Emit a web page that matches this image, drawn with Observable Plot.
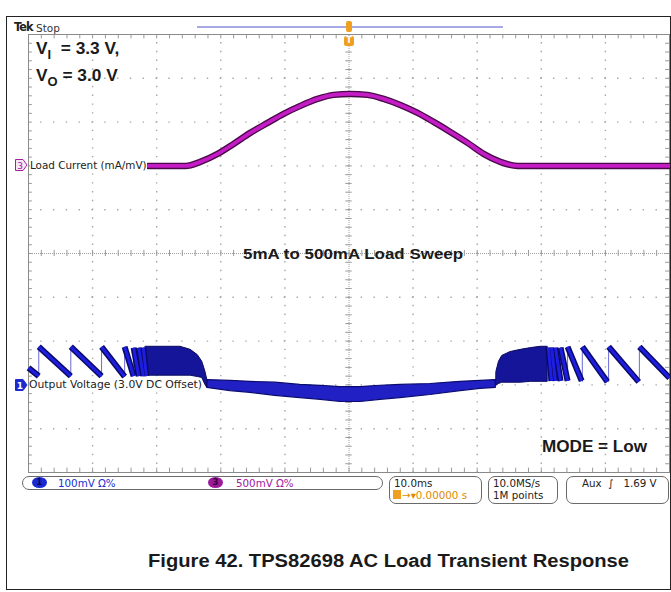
<!DOCTYPE html>
<html><head><meta charset="utf-8">
<script src="https://cdn.jsdelivr.net/npm/d3@7"></script>
<script src="https://cdn.jsdelivr.net/npm/@observablehq/plot@0.6"></script>
<style>
html,body{margin:0;padding:0;background:#fff;}
#wrap{position:relative;width:671px;height:592px;overflow:hidden;font-family:"DejaVu Sans",sans-serif;}
#chart{position:absolute;left:0;top:0;}
.abs{position:absolute;white-space:nowrap;line-height:1;}
.bold{font-family:"Liberation Sans",Arial,sans-serif;font-weight:bold;color:#1a1a1a;transform-origin:left center;}
.sub{position:relative;top:5px;font-size:12px;}
.lbl{color:#222;background:#fff;}
.box{position:absolute;border:1px solid #6a6a6a;border-radius:7px;box-sizing:border-box;}
.info{font-size:10.3px;}
.pill{position:absolute;border-radius:50%;font-size:9px;line-height:11px;text-align:center;font-weight:bold;}
</style></head><body>
<div id="wrap">
  <div id="chart"></div>

  <!-- outer figure frame -->
  <div class="abs" style="left:6px;top:16px;width:663px;height:572px;border:1px solid #222;"></div>

  <!-- scope header -->
  <div class="abs" style="left:14px;top:21px;font-family:'DejaVu Sans Condensed','DejaVu Sans';font-weight:bold;font-size:12.5px;letter-spacing:-0.8px;color:#222;">Tek</div>
  <div class="abs" style="left:36px;top:22.5px;font-size:10.5px;color:#333;">Stop</div>
  <div class="abs" style="left:197px;top:26px;width:306px;height:2px;background:#a8a8e6;"></div>
  <div class="abs" style="left:346px;top:21px;width:6px;height:11px;background:#f0a020;border-radius:2px;"></div>
  <div class="abs" style="left:344px;top:36px;width:10px;height:10px;background:#f0a020;border-radius:2px;color:#fff;font-size:8px;line-height:10px;text-align:center;font-weight:bold;">T</div>

  <!-- annotations -->
  <div class="abs bold" style="left:36px;top:41px;font-size:16px;transform:scaleX(1.08);">V<span class="sub">I</span>&nbsp; = 3.3 V,</div>
  <div class="abs bold" style="left:36px;top:68px;font-size:16px;transform:scaleX(1.08);">V<span class="sub">O</span> = 3.0 V</div>
  <div class="abs bold" style="left:243px;top:246px;font-size:15px;transform:scaleX(1.13);">5mA to 500mA Load Sweep</div>
  <div class="abs bold" style="left:542px;top:439px;font-size:16px;transform:scaleX(1.07);">MODE = Low</div>

  <!-- channel labels -->
  <svg class="abs" style="left:15px;top:159px;" width="13" height="12"><path d="M0.5,0.5H8L12,6L8,11.5H0.5Z" fill="#f6e6f6" stroke="#a020a0"/><text x="5" y="9.5" font-size="9" fill="#a020a0" text-anchor="middle" font-family="DejaVu Sans">3</text></svg>
  <div class="abs lbl" style="left:30px;top:160px;font-size:10.4px;">Load Current (mA/mV)</div>
  <svg class="abs" style="left:15px;top:379px;" width="13" height="12"><path d="M0.5,0.5H8L12,6L8,11.5H0.5Z" fill="#1a2ad0" stroke="#1a2ad0"/><text x="5" y="9.5" font-size="9" fill="#fff" text-anchor="middle" font-family="DejaVu Sans" font-weight="bold">1</text></svg>
  <div class="abs lbl" style="left:29px;top:379.5px;font-size:10.8px;">Output Voltage (3.0V DC Offset)</div>

  <!-- info bar -->
  <div class="box" style="left:22px;top:476px;width:361px;height:14px;"></div>
  <div class="pill" style="left:32px;top:477px;width:15px;height:11px;background:#1a2ad0;color:#0a0a50;">1</div>
  <div class="abs info" style="left:58px;top:478px;color:#2030d0;">100mV Ω%</div>
  <div class="pill" style="left:208px;top:477px;width:15px;height:11px;background:#9a1a9a;color:#3a003a;">3</div>
  <div class="abs info" style="left:236px;top:478px;color:#a020a0;">500mV Ω%</div>

  <div class="box" style="left:389px;top:476px;width:93px;height:28px;"></div>
  <div class="abs info" style="left:394px;top:478px;color:#222;">10.0ms</div>
  <div class="abs" style="left:393px;top:490px;width:8px;height:9px;background:#f0a020;"></div>
  <div class="abs info" style="left:402px;top:490px;color:#e08a00;">→▾0.00000 s</div>

  <div class="box" style="left:488px;top:476px;width:70px;height:28px;"></div>
  <div class="abs info" style="left:493px;top:478px;color:#222;">10.0MS/s</div>
  <div class="abs info" style="left:493px;top:490px;color:#222;">1M points</div>

  <div class="box" style="left:566px;top:476px;width:103px;height:28px;"></div>
  <div class="abs info" style="left:582px;top:478px;color:#222;">Aux &nbsp;∫ &nbsp; 1.69 V</div>

  <!-- caption -->
  <div class="abs bold" style="left:148px;top:552px;font-size:18px;transform:scaleX(1.12);">Figure 42. TPS82698 AC Load Transient Response</div>
</div>
<script>
// ---- Channel 3: load current probe (mV at 500 mV/div, marker offset +2 div), time in ms (10 ms/div)
const loadT  = [-31.3, -25.5, -23.2, -20.5, -18.0, -15.4, -12.7, -10.2, -7.6, -4.9, -2.4, 0.2, 2.9, 5.4, 8.0, 10.7, 13.2, 15.8, 18.5, 21.0, 23.6, 26.3, 50];
const loadMv = [0, 0, 46, 137, 251, 377, 491, 594, 685, 765, 811, 822, 811, 765, 696, 605, 502, 388, 263, 137, 46, 0, 0];

// ---- Channel 1: output voltage ripple, mV around 3.0 V (100 mV/div, marker offset -3 div)
// PFM sawtooth ramps
const rampStartMs = [-50, -48.4, -43.4, -38.6, -35.0, -33.6, -32.8, -32.1, 31.1, 31.6, 32.2, 33.0, 34.1, 36.4, 40.5, 45.3];
const rampEndMs   = [-48.4, -43.4, -38.6, -35.0, -33.6, -32.8, -32.1, -31.6, 31.6, 32.2, 33.0, 34.1, 36.3, 40.3, 45.2, 50];
const rampTopMv   = [39, 87, 87, 87, 87, 85, 85, 85, 85, 85, 85, 85, 87, 87, 87, 87];
const rampEndMv   = [20, 20, 20, 19, 20, 20, 20, 20, 9, 9, 9, 9, 9, 7, 7, 16];

// dense switching burst before the PWM region
const burstLeftT  = [-31.7, -29.4, -26.3, -24.7, -23.6, -22.9, -22.4, -22.1];
const burstLeftHi = [87, 87, 87, 80, 68, 53, 30, 11];
const burstLeftLo = [21, 21, 21, 21, 18, 16, 0, -7];

// PWM ripple band under heavy load
const pwmT  = [-22.1, -18.5, -15.4, -11.5, -7.6, -4.4, -1.3, 1.8, 4.9, 8.0, 12.7, 17.4, 20.5, 22.9];
const pwmHi = [11, 9, 7, 5, 0, -2, -5, -5, -2, 0, 2, 7, 9, 11];
const pwmLo = [-7, -14, -18, -25, -30, -34, -39, -39, -34, -30, -23, -14, -9, -7];

// dense switching burst after the PWM region
const burstRightT  = [23.0, 23.4, 23.9, 25.2, 26.8, 28.4, 29.9, 31.0];
const burstRightHi = [30, 53, 66, 75, 80, 84, 87, 87];
const burstRightLo = [-2, 2, 5, 5, 5, 7, 7, 7];

// scope settings
const ch3Offset = 2, ch3Scale = 500;   // div, mV/div
const ch1Offset = -3, ch1Scale = 100;  // div, mV/div

const loadData = loadT.map((t, i) => ({t, v: loadMv[i]}));
const ramps = rampStartMs.map((t0, i) => ({t0, t1: rampEndMs[i], v0: rampTopMv[i], v1: rampEndMv[i]}));
const jumps = ramps.filter(r => r.v0 > 60);
const band = (T, H, L) => T.map((t, i) => ({t, hi: H[i], lo: L[i]}));
const burstL = band(burstLeftT, burstLeftHi, burstLeftLo);
const burstR = band(burstRightT, burstRightHi, burstRightLo);
const pwm = band(pwmT, pwmHi, pwmLo);

const c3 = v => ch3Offset + v / ch3Scale;
const c1 = v => ch1Offset + v / ch1Scale;

const majorX = d3.range(-40, 41, 10).filter(d => d !== 0);
const majorY = d3.range(-4, 5, 1).filter(d => d !== 0);
const minorX = d3.range(-50, 50.001, 2);
const minorY = d3.range(-5, 5.001, 0.2);
const gridC = "#a6a6a6";

const plot = Plot.plot({
  width: 671, height: 592,
  marginLeft: 28, marginRight: 2, marginTop: 34, marginBottom: 120,
  x: {domain: [-50, 50], axis: null},
  y: {domain: [-5, 5], axis: null},
  style: {background: "#fff", overflow: "visible"},
  marks: [
    Plot.ruleY(majorY, {y: d => d, stroke: gridC, strokeWidth: 1.4, strokeDasharray: "1.4 11.42", strokeDashoffset: 0.7}),
    Plot.ruleX(majorX, {x: d => d, stroke: gridC, strokeWidth: 1.4, strokeDasharray: "1.4 7.36", strokeDashoffset: 0.7}),
    Plot.ruleY([0], {y: d => d, stroke: "#a0a0a0", strokeDasharray: "1 1"}),
    Plot.ruleX([0], {x: d => d, stroke: "#a0a0a0", strokeDasharray: "1 1"}),
    Plot.ruleX(minorX, {x: d => d, y1: () => -0.07, y2: () => 0.07, stroke: "#999"}),
    Plot.ruleY(minorY, {y: d => d, x1: () => -0.5, x2: () => 0.5, stroke: "#999"}),
    Plot.ruleX(minorX, {x: d => d, y1: () => 5, y2: () => 4.9, stroke: "#999"}),
    Plot.ruleX(minorX, {x: d => d, y1: () => -5, y2: () => -4.9, stroke: "#999"}),
    Plot.ruleY(minorY, {y: d => d, x1: () => -50, x2: () => -49.4, stroke: "#999"}),
    Plot.ruleY(minorY, {y: d => d, x1: () => 50, x2: () => 49.4, stroke: "#999"}),
    Plot.frame({stroke: "#8a8a8a"}),

    // channel 3 load current
    Plot.line(loadData, {x: "t", y: d => c3(d.v), stroke: "#4a0a4a", strokeWidth: 6.5, curve: "monotone-x"}),
    Plot.line(loadData, {x: "t", y: d => c3(d.v), stroke: "#c41cc4", strokeWidth: 3.8, curve: "monotone-x"}),

    // channel 1 output voltage
    Plot.areaY(pwm, {x: "t", y1: d => c1(d.lo), y2: d => c1(d.hi), fill: "#2020c4", stroke: "#0b0b70", strokeWidth: 1.2}),
    Plot.areaY(burstL, {x: "t", y1: d => c1(d.lo), y2: d => c1(d.hi), fill: "#15159a", stroke: "#0b0b60", strokeWidth: 1}),
    Plot.areaY(burstR, {x: "t", y1: d => c1(d.lo), y2: d => c1(d.hi), fill: "#15159a", stroke: "#0b0b60", strokeWidth: 1}),
    Plot.link(jumps, {x1: "t0", x2: "t0", y1: d => c1(d.v1), y2: d => c1(d.v0), stroke: "#6a6ad6", strokeWidth: 1}),
    Plot.link(ramps, {x1: "t0", x2: "t1", y1: d => c1(d.v0), y2: d => c1(d.v1), stroke: "#0a0a66", strokeWidth: 6}),
    Plot.link(ramps, {x1: "t0", x2: "t1", y1: d => c1(d.v0), y2: d => c1(d.v1), stroke: "#1e1ee2", strokeWidth: 3})
  ]
});
document.getElementById("chart").append(plot);
</script>
</body></html>
